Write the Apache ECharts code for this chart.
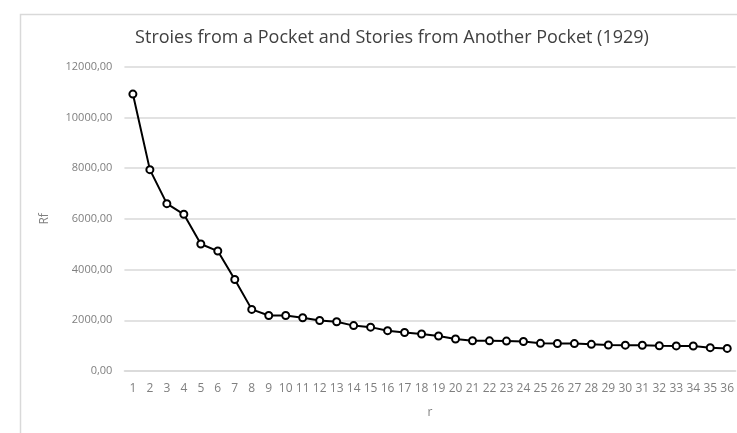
<!DOCTYPE html>
<html>
<head>
<meta charset="utf-8">
<script src="https://cdn.jsdelivr.net/npm/echarts@6/dist/echarts.min.js"></script>
<style>html,body{margin:0;padding:0;background:#fff}#c{width:737px;height:433px}</style>
</head>
<body>
<div id="c"></div>
<script>
const categories = ['1','2','3','4','5','6','7','8','9','10','11','12','13','14','15','16','17','18','19','20','21','22','23','24','25','26','27','28','29','30','31','32','33','34','35','36'];
const rfValues = [10920, 7940, 6600, 6180, 5010, 4730, 3610, 2430, 2190, 2190, 2100, 1990, 1940, 1790, 1730, 1590, 1520, 1460, 1380, 1260, 1195, 1190, 1180, 1165, 1090, 1085, 1080, 1050, 1025, 1020, 1015, 995, 990, 985, 920, 890];
const yTicks = { min: 0, max: 12000, interval: 2000 };

const chart = echarts.init(document.getElementById('c'));
const font = '"Open Sans", "Liberation Sans", sans-serif';
chart.setOption({
  animation: false,
  graphic: [{
    type: 'rect', left: 18, top: 12, shape: { width: 800, height: 500 },
    style: { fill: 'none', stroke: '#d9d9d9', lineWidth: 1.5 }, z: -1
  }],
  title: {
    text: 'Stroies from a Pocket and Stories from Another Pocket (1929)',
    left: 387, top: 24, textAlign: 'center',
    textStyle: { fontFamily: font, fontWeight: 'normal', fontSize: 18, color: '#404040' }
  },
  grid: { left: 124.4, width: 617, top: 66.7, bottom: 62, containLabel: false },
  xAxis: {
    type: 'category', data: categories, boundaryGap: true,
    name: 'r', nameLocation: 'middle', nameGap: 36,
    nameTextStyle: { fontFamily: font, fontSize: 12, color: '#7f7f7f' },
    axisLine: { show: true, lineStyle: { color: '#d9d9d9', width: 1.5 } },
    axisTick: { show: false },
    axisLabel: { interval: 0, fontFamily: font, fontSize: 12, color: '#7f7f7f', margin: 12 }
  },
  yAxis: {
    type: 'value', min: yTicks.min, max: yTicks.max, interval: yTicks.interval,
    name: 'Rf', nameLocation: 'middle', nameGap: 74, nameRotate: 90,
    nameTextStyle: { fontFamily: font, fontSize: 12, color: '#7f7f7f' },
    axisLine: { show: false }, axisTick: { show: false },
    axisLabel: { fontFamily: font, fontSize: 11, color: '#7f7f7f', margin: 12,
      formatter: v => v.toFixed(2).replace('.', ',') },
    splitLine: { lineStyle: { color: '#d9d9d9', width: 1.5 } }
  },
  series: [{
    type: 'line', data: rfValues,
    symbol: 'circle', symbolSize: 7, showAllSymbol: true,
    lineStyle: { color: '#000', width: 2 },
    itemStyle: { color: '#fff', borderColor: '#000', borderWidth: 2 }
  }]
});
</script>
</body>
</html>
